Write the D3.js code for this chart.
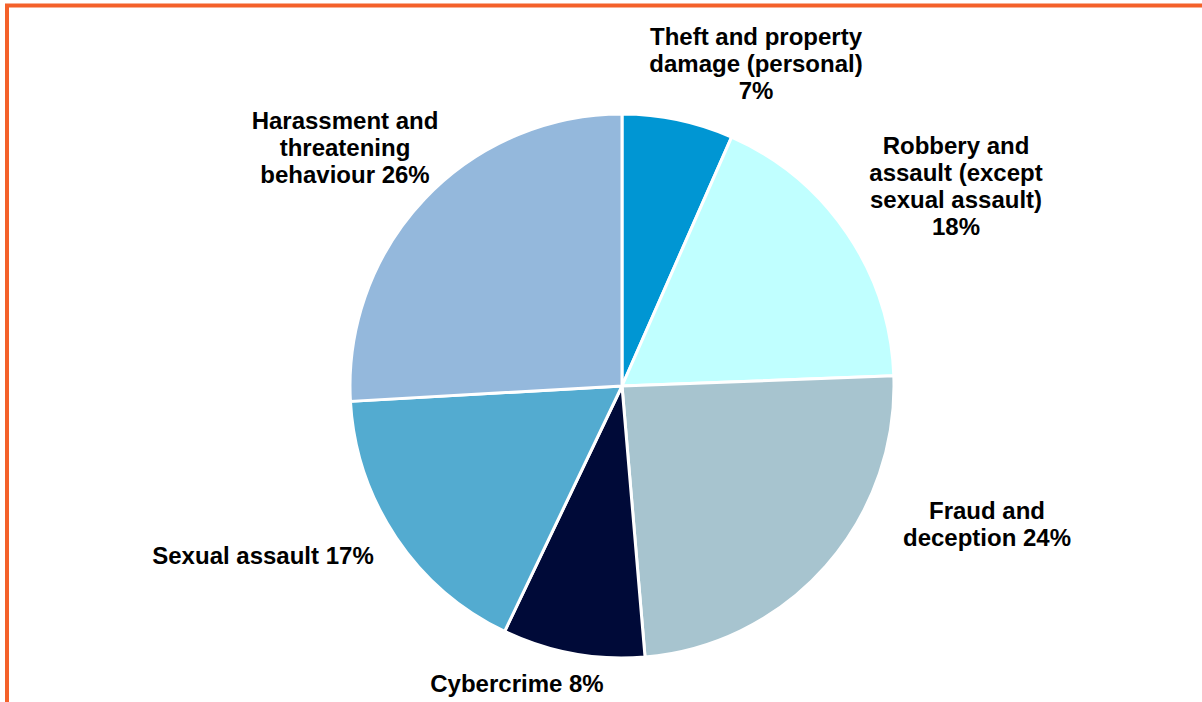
<!DOCTYPE html>
<html>
<head>
<meta charset="utf-8">
<script src="https://cdn.jsdelivr.net/npm/d3@7"></script>
<style>
  body { margin: 0; background: #fff; }
  svg { display: block; }
  .lbl { font-family: "Liberation Sans", Arial, sans-serif; font-weight: bold; font-size: 24px; fill: #000; }
</style>
</head>
<body>
<div id="chart"></div>
<script>
// slices, clockwise from 12 o'clock
var categories = ["Theft and property damage (personal)", "Robbery and assault (except sexual assault)",
  "Fraud and deception", "Cybercrime", "Sexual assault", "Harassment and threatening behaviour"];
var values = [6.6, 17.8, 24.25, 8.45, 17.0, 25.9];
var pctLabels = ["7%", "18%", "24%", "8%", "17%", "26%"];
var colors = ["#0096d3", "#c0ffff", "#a7c4cf", "#000a38", "#53abd0", "#94b8dc"];
// label text lines as they wrap in the picture
var labelLines = [
  ["Theft and property", "damage (personal)", "7%"],
  ["Robbery and", "assault (except", "sexual assault)", "18%"],
  ["Fraud and", "deception 24%"],
  ["Cybercrime 8%"],
  ["Sexual assault 17%"],
  ["Harassment and", "threatening", "behaviour 26%"]
];

var width = 1202, height = 702;
var cx = 622, cy = 386, radius = 272;
// label centres (x, baseline y of the first line), placed outside the pie like the original
var labelPos = [[756, 45], [956, 154], [987, 519], [517, 692], [263, 564], [345, 129]];
var lineH = 27;

var svg = d3.select("#chart").append("svg")
  .attr("width", width)
  .attr("height", height);

// orange frame, open at the right and bottom
svg.append("rect")
  .attr("x", 7).attr("y", 5.5)
  .attr("width", width + 20).attr("height", height + 20)
  .attr("fill", "none")
  .attr("stroke", "#f4612a")
  .attr("stroke-width", 4);

var data = categories.map(function(c, i) { return { name: c, value: values[i], idx: i }; });

var pie = d3.pie().sort(null).value(function(d) { return d.value; });
var arc = d3.arc().innerRadius(0).outerRadius(radius);

var g = svg.append("g").attr("transform", "translate(" + cx + "," + cy + ")");

g.selectAll("path.slice")
  .data(pie(data))
  .enter().append("path")
  .attr("class", "slice")
  .attr("d", arc)
  .attr("fill", function(d) { return colors[d.data.idx]; })
  .attr("stroke", "#fff")
  .attr("stroke-width", 3)
  .attr("stroke-linejoin", "round");

var labels = svg.selectAll("text.lbl")
  .data(data)
  .enter().append("text")
  .attr("class", "lbl")
  .attr("text-anchor", "middle")
  .attr("x", function(d) { return labelPos[d.idx][0]; })
  .attr("y", function(d) { return labelPos[d.idx][1]; });

labels.each(function(d) {
  var t = d3.select(this);
  labelLines[d.idx].forEach(function(line, j) {
    t.append("tspan")
      .attr("x", labelPos[d.idx][0])
      .attr("dy", j === 0 ? 0 : lineH)
      .text(line);
  });
});
</script>
</body>
</html>
